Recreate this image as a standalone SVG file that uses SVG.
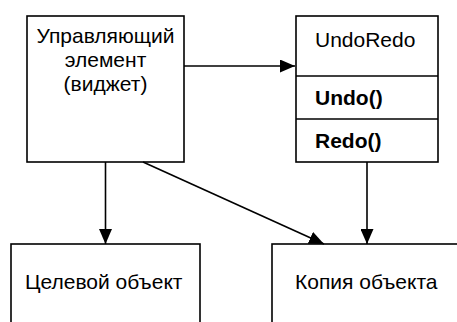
<svg xmlns="http://www.w3.org/2000/svg" width="457" height="322" viewBox="0 0 457 322">
<style>
.box{fill:#fff;stroke:#000;stroke-width:1.6}
.t{font-family:"Liberation Sans",Arial,sans-serif;font-size:21px;fill:#000}
.b{font-weight:bold}
.c{stroke:#000;stroke-width:1.6;fill:none}
</style>
<defs>
<marker id="ah" markerWidth="15" markerHeight="13" refX="15" refY="6.5" orient="auto" markerUnits="userSpaceOnUse">
<path d="M0,0 L15,6.5 L0,13 Z" fill="#000"/>
</marker>
</defs>
<rect width="457" height="322" fill="#fff"/>
<g id="controller">
<rect class="box" x="27" y="16" width="157" height="146"/>
<text class="t" x="105.5" y="43" text-anchor="middle">Управляющий</text>
<text class="t" x="105.5" y="67" text-anchor="middle">элемент</text>
<text class="t" x="105.5" y="91" text-anchor="middle">(виджет)</text>
</g>
<g id="undoredo">
<rect class="box" x="296" y="16" width="142" height="146"/>
<line class="c" x1="296" y1="76" x2="438" y2="76"/>
<line class="c" x1="296" y1="119" x2="438" y2="119"/>
<text class="t" x="315" y="47">UndoRedo</text>
<text class="t b" x="315" y="105">Undo()</text>
<text class="t b" x="315" y="148">Redo()</text>
</g>
<g id="target">
<rect class="box" x="11" y="244" width="189" height="90"/>
<text class="t" x="25" y="289">Целевой объект</text>
</g>
<g id="copy">
<rect class="box" x="272" y="244" width="200" height="90"/>
<text class="t" x="295" y="289">Копия объекта</text>
</g>
<g id="connectors">
<line class="c" x1="184" y1="66" x2="295" y2="66" marker-end="url(#ah)"/>
<line class="c" x1="105.5" y1="162" x2="105.5" y2="244" marker-end="url(#ah)"/>
<line class="c" x1="143" y1="162" x2="324" y2="244" marker-end="url(#ah)"/>
<line class="c" x1="367" y1="162" x2="367" y2="244" marker-end="url(#ah)"/>
</g>
</svg>
